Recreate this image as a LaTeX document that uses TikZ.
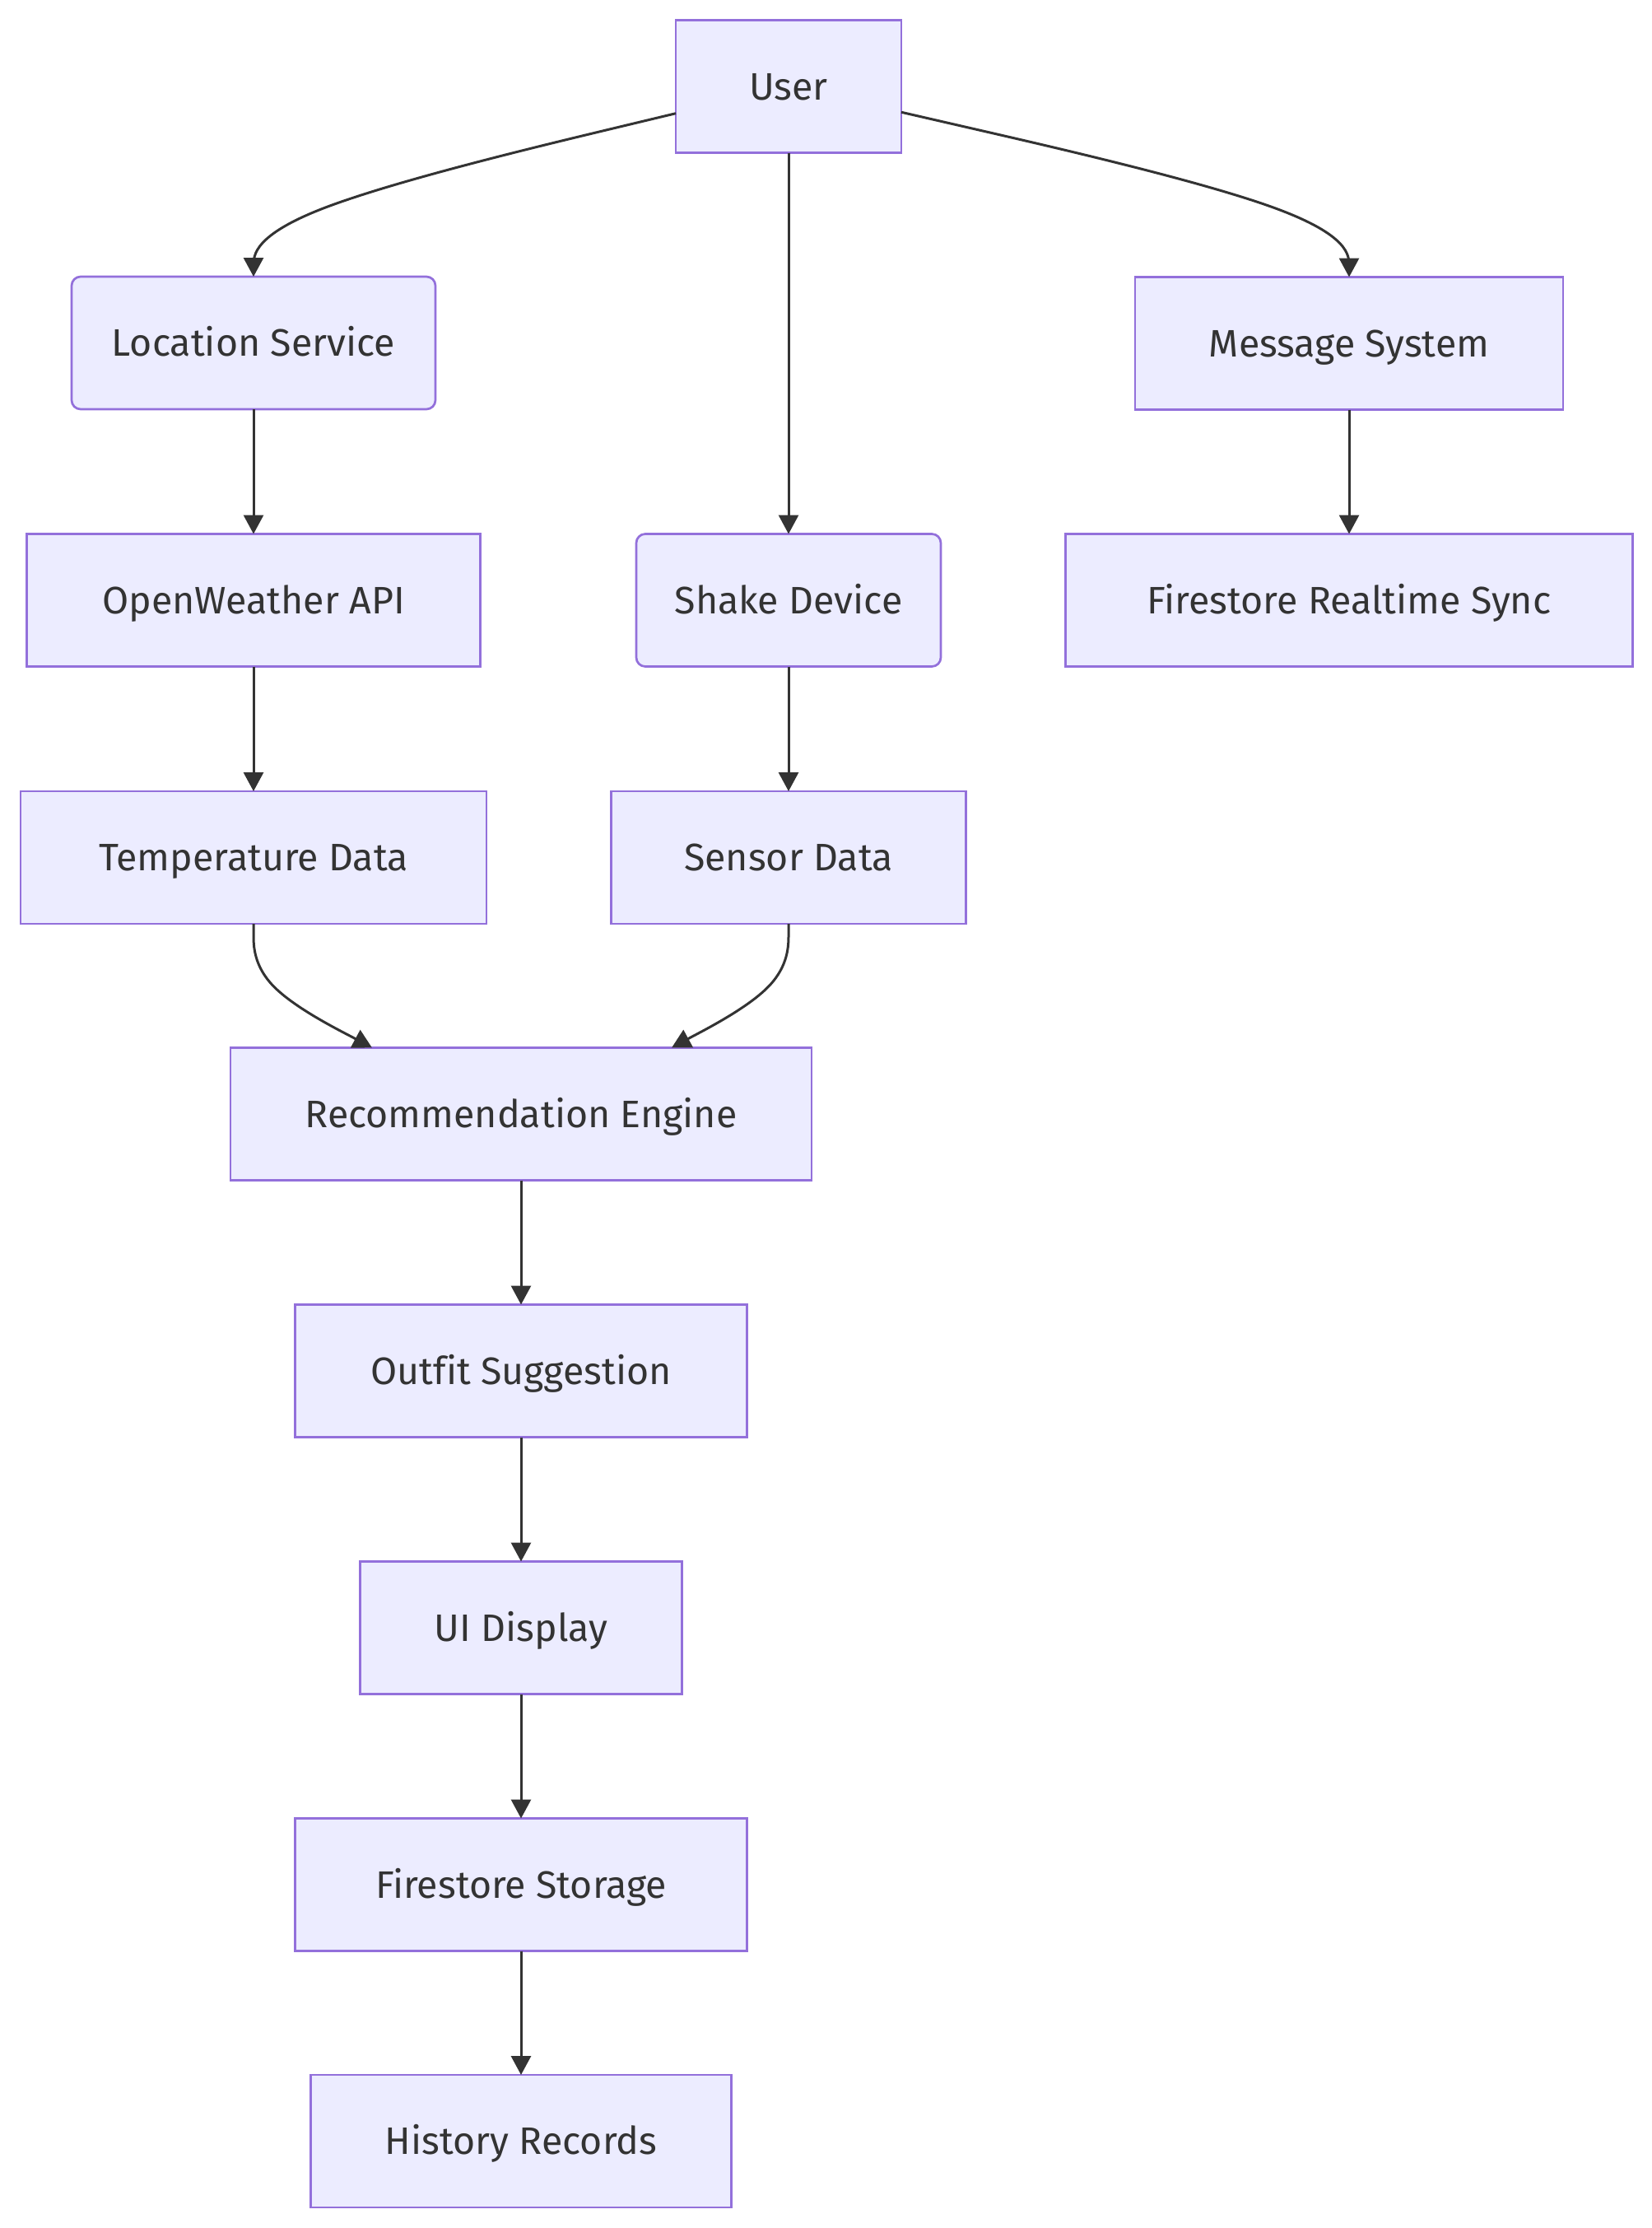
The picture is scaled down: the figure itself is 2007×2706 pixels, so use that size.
\documentclass[tikz,border=0pt]{standalone}
\usepackage{fontspec}
\setmainfont{Fira Sans}[Ligatures=NoCommon]
\usetikzlibrary{arrows.meta}
\definecolor{nodefill}{HTML}{ECECFF}
\definecolor{nodeline}{HTML}{9370DB}
\definecolor{edgecol}{HTML}{333333}
\definecolor{txtcol}{HTML}{333333}
\tikzset{
  box/.style={draw=nodeline, fill=nodefill, line width=2.7pt, rectangle,
    minimum height=161pt, inner sep=0pt, outer sep=0pt,
    text=txtcol, font=\fontsize{46.5}{56}\selectfont,
    text height=32pt, text depth=0pt},
  rbox/.style={box, rounded corners=11pt},
  edge/.style={draw=edgecol, line width=3pt,
    -{Triangle[length=23pt,width=24pt]}},
}
\begin{document}
\begin{tikzpicture}[x=1pt,y=-1pt]
\useasboundingbox (0,0) rectangle (2007,2706);
% nodes
\node[box, minimum width=274pt] (user) at (958,105) {User};
\node[rbox, minimum width=442pt] (locs) at (308,416.5) {Location Service};
\node[box, minimum width=520pt] (msg) at (1639,417) {Message System};
\node[box, minimum width=551pt] (ow) at (308,729) {OpenWeather API};
\node[rbox, minimum width=370pt] (shake) at (958,729) {Shake Device};
\node[box, minimum width=689pt] (frs) at (1639,729) {Firestore Realtime Sync};
\node[box, minimum width=566pt] (temp) at (308,1041.5) {Temperature Data};
\node[box, minimum width=431pt] (sens) at (958,1041.5) {Sensor Data};
\node[box, minimum width=706pt] (rec) at (633,1353) {Recommendation Engine};
\node[box, minimum width=549pt] (outfit) at (633,1665) {Outfit Suggestion};
\node[box, minimum width=391pt] (ui) at (633,1977) {UI Display};
\node[box, minimum width=549pt] (fst) at (633,2289) {Firestore Storage};
\node[box, minimum width=511pt] (hist) at (633,2600.5) {History Records};
% curved edges from User
\draw[edge] (user) -- (734.7,158.4)
  .. controls (649.3,178.9) and (478.7,220) .. (393.3,252.8)
  .. controls (308,285.7) and (308,310.3) .. (308,322.7) -- (locs.north);
\draw[edge] (user) -- (1186.5,157.3)
  .. controls (1277,178.1) and (1458,219.5) .. (1548.5,252.6)
  .. controls (1639,285.7) and (1639,310.3) .. (1639,322.7) -- (msg.north);
\draw[edge] (user) -- (shake);
% straight edges
\draw[edge] (locs) -- (ow);
\draw[edge] (msg) -- (frs);
\draw[edge] (ow) -- (temp);
\draw[edge] (shake) -- (sens);
% merging edges
\draw[edge] (temp.south) -- (308,1135.4)
  .. controls (308,1147.8) and (308,1172.7) .. (332,1197.5)
  .. controls (356,1222.3) and (404,1247.2) .. (428,1259.6)
  -- ([xshift=-181pt]rec.north);
\draw[edge] (sens.south) -- (958,1135.4)
  .. controls (958,1147.8) and (958,1172.7) .. (934.3,1197.5)
  .. controls (910.7,1222.3) and (863.3,1247.2) .. (839.7,1259.6)
  -- ([xshift=183pt]rec.north);
\draw[edge] (rec) -- (outfit);
\draw[edge] (outfit) -- (ui);
\draw[edge] (ui) -- (fst);
\draw[edge] (fst) -- (hist);
\end{tikzpicture}
\end{document}
